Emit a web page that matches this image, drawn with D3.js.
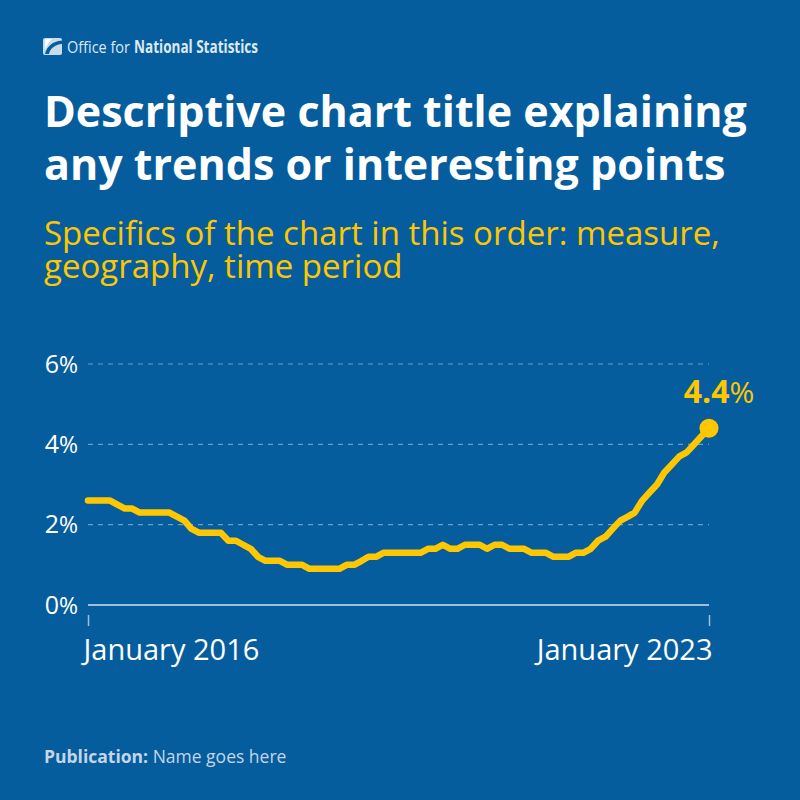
<!DOCTYPE html>
<html>
<head>
<meta charset="utf-8">
<script src="https://cdn.jsdelivr.net/npm/d3@7"></script>
<style>
  html, body { margin: 0; padding: 0; background: #065d9d; }
  svg { display: block; font-family: "Open Sans", "Noto Sans", sans-serif; }
</style>
</head>
<body>
<script>
// ---- Data ----
const startMonth = new Date(2016, 0, 1);
const endMonth = new Date(2023, 0, 1);
const values = [
  2.6, 2.6, 2.6, 2.6, 2.5, 2.4, 2.4, 2.3, 2.3, 2.3, 2.3, 2.3,   // 2016
  2.2, 2.1, 1.9, 1.8, 1.8, 1.8, 1.8, 1.6, 1.6, 1.5, 1.4, 1.2,   // 2017
  1.1, 1.1, 1.1, 1.0, 1.0, 1.0, 0.9, 0.9, 0.9, 0.9, 0.9, 1.0,   // 2018
  1.0, 1.1, 1.2, 1.2, 1.3, 1.3, 1.3, 1.3, 1.3, 1.3, 1.4, 1.4,   // 2019
  1.5, 1.4, 1.4, 1.5, 1.5, 1.5, 1.4, 1.5, 1.5, 1.4, 1.4, 1.4,   // 2020
  1.3, 1.3, 1.3, 1.2, 1.2, 1.2, 1.3, 1.3, 1.4, 1.6, 1.7, 1.9,   // 2021
  2.1, 2.2, 2.3, 2.6, 2.8, 3.0, 3.3, 3.5, 3.7, 3.8, 4.0, 4.2,   // 2022
  4.4                                                          // Jan 2023
];
const yTicks = [0, 2, 4, 6];
const xTickLabels = ["January 2016", "January 2023"];
const titleLines = ["Descriptive chart title explaining", "any trends or interesting points"];
const subtitleLines = ["Specifics of the chart in this order: measure,", "geography, time period"];

const months = d3.timeMonth.range(startMonth, d3.timeMonth.offset(endMonth, 1));
const data = months.map((d, i) => ({ date: d, value: values[i] }));

// ---- Styles ----
const BG = "#065d9d";
const YELLOW = "#ffc700";
const W = 800, H = 800;

const svg = d3.select("body").append("svg").attr("width", W).attr("height", H);
svg.append("rect").attr("width", W).attr("height", H).attr("fill", BG);

// Logo
const logo = svg.append("g").attr("transform", "translate(43,38)");
logo.append("rect").attr("x", 0).attr("y", 0).attr("width", 19).attr("height", 17)
  .attr("rx", 2).attr("fill", "#c9dcee");
logo.append("path").attr("d", "M2,16 C3.5,9 9,3.5 19,2.5 L19,6 C12,6.5 7,10.5 6,16 Z").attr("fill", BG);
logo.append("path").attr("d", "M2,1 L9,1 C5.5,4 3.5,8 2,12 Z").attr("fill", "#ffffff").attr("opacity", 0.9);
svg.append("text").attr("x", 67).attr("y", 53)
  .attr("font-size", 17).attr("fill", "#dce8f3")
  .attr("textLength", 63).attr("lengthAdjust", "spacingAndGlyphs")
  .text("Office for");
svg.append("text").attr("x", 134).attr("y", 53)
  .attr("font-size", 17).attr("font-weight", 700).attr("fill", "#dce8f3")
  .attr("textLength", 124).attr("lengthAdjust", "spacingAndGlyphs")
  .text("National Statistics");

// Title
svg.append("g").selectAll("text").data(titleLines).join("text")
  .attr("x", 44).attr("y", (d, i) => 127 + i * 53)
  .attr("font-size", 43).attr("font-weight", 700).attr("fill", "#ffffff")
  .text(d => d);

// Subtitle
svg.append("g").selectAll("text").data(subtitleLines).join("text")
  .attr("x", 44).attr("y", (d, i) => 245 + i * 33)
  .attr("font-size", 33).attr("fill", YELLOW)
  .text(d => d);

// Scales
const x = d3.scaleTime().domain([startMonth, endMonth]).range([88, 709]);
const y = d3.scaleLinear().domain([0, 6]).range([605, 364]);

// Gridlines
const grid = svg.append("g");
grid.selectAll("line.grid").data(yTicks.filter(t => t > 0)).join("line")
  .attr("class", "grid")
  .attr("x1", x.range()[0]).attr("x2", x.range()[1])
  .attr("y1", d => y(d)).attr("y2", d => y(d))
  .attr("stroke", "#6f9cc4").attr("stroke-width", 1.2).attr("stroke-dasharray", "5,5");

// Y axis
const yAxis = svg.append("g").attr("transform", "translate(78,0)")
  .call(d3.axisLeft(y).tickValues(yTicks).tickSize(0).tickPadding(0).tickFormat(d => d));
yAxis.select(".domain").remove();
yAxis.selectAll("text")
  .attr("fill", "#ffffff").attr("font-size", 25).attr("font-family", "'Open Sans', sans-serif")
  .each(function() {
    d3.select(this).append("tspan").attr("font-size", 23).text("%");
  });

// Zero line
svg.append("line")
  .attr("x1", x.range()[0]).attr("x2", x.range()[1])
  .attr("y1", y(0)).attr("y2", y(0))
  .attr("stroke", "#9fbedb").attr("stroke-width", 2);

// X axis
const xAxis = svg.append("g").attr("transform", "translate(0,615)")
  .call(d3.axisBottom(x).tickValues([startMonth, endMonth]).tickSize(11).tickPadding(13)
    .tickFormat((d, i) => xTickLabels[i]));
xAxis.select(".domain").remove();
xAxis.selectAll(".tick line").attr("stroke", "#9fbedb").attr("stroke-width", 1.5);
xAxis.selectAll(".tick text")
  .attr("fill", "#ffffff").attr("font-size", 29).attr("font-family", "'Open Sans', sans-serif")
  .attr("text-anchor", (d, i) => i === 0 ? "start" : "end")
  .attr("dx", (d, i) => i === 0 ? -5 : 3);

// Line
const line = d3.line().x(d => x(d.date)).y(d => y(d.value));
svg.append("path").datum(data)
  .attr("d", line)
  .attr("fill", "none").attr("stroke", YELLOW).attr("stroke-width", 6.5)
  .attr("stroke-linejoin", "round").attr("stroke-linecap", "round");

// End point
const last = data[data.length - 1];
svg.append("circle").attr("cx", x(last.date)).attr("cy", y(last.value)).attr("r", 9.5).attr("fill", YELLOW);
const endLabel = svg.append("text")
  .attr("x", x(last.date) + 10).attr("y", y(last.value) - 25)
  .attr("text-anchor", "middle").attr("fill", YELLOW).attr("font-size", 32).attr("font-weight", 700);
endLabel.append("tspan").text(d3.format(".1f")(last.value));
endLabel.append("tspan").attr("font-weight", 400).attr("font-size", 30).text("%");

// Footer
const foot = svg.append("text").attr("x", 44).attr("y", 763)
  .attr("font-size", 17.5).attr("fill", "#c3d5e8");
foot.append("tspan").attr("font-weight", 700).text("Publication: ");
foot.append("tspan").text("Name goes here");
</script>
</body>
</html>
